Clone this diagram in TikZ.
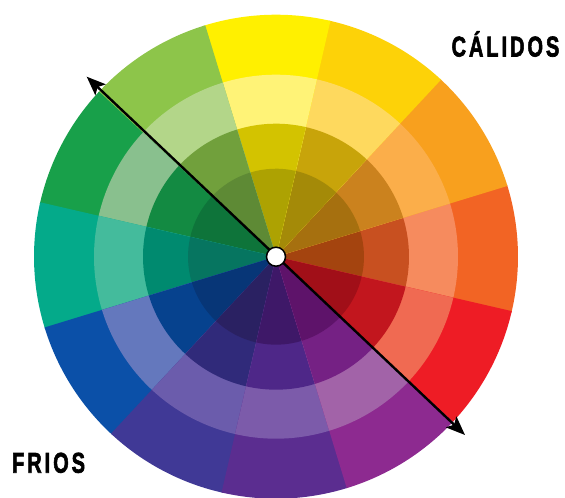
\documentclass[tikz,border=0pt]{standalone}
\usepackage{graphicx}
\usepackage{fontspec}
\setmainfont{Liberation Sans}
\newfontfamily\lblfont{Liberation Sans}[BoldFeatures={FakeBold=2.5}]
\usetikzlibrary{arrows.meta}
\newcommand\lsp{\kern4.2pt}
\begin{document}
\begin{tikzpicture}[x=1pt,y=1pt,
  arrowline/.style={line width=2.4pt, black,
    {Stealth[length=19pt,width=15pt,inset=4pt]}-{Stealth[length=19pt,width=15pt,inset=4pt]}},
  dot/.style={circle, fill=white, draw=black, line width=1.5pt, minimum size=19pt, inner sep=0pt},
  lbl/.style={anchor=base west, inner sep=0pt, text=black}]
\useasboundingbox (0,0) rectangle (565,498);
\coordinate (O) at (276,241.3);
\begin{scope}[shift={(O)}]
\foreach \i/\ca/\cb/\cc/\cd in {
  0/F26424/F68B5E/C85020/A4440F,
  1/F8A01E/FBAE4A/CB821E/A6700F,
  2/FDD208/FED95E/C8A40A/A48A08,
  3/FFF000/FFF377/D3C300/ADA202,
  4/8DC54A/B3D689/71A03C/5E8A35,
  5/18A04A/89C08E/138A42/0E743A,
  6/04AA8A/44BB9C/008A6F/067560,
  7/0B50A8/6478BD/06428E/073677,
  8/403996/6B5CAC/302A7A/2A2162,
  9/5B2D90/7C5BAA/4E2788/3E1868,
  10/8D2A90/A263A8/752184/5E136A,
  11/EE1C25/F06A52/C2161E/A10F18}{
  \definecolor{ringA}{HTML}{\ca}
  \definecolor{ringB}{HTML}{\cb}
  \definecolor{ringC}{HTML}{\cc}
  \definecolor{ringD}{HTML}{\cd}
  \pgfmathsetmacro\as{-13+30*\i-(\i==0)*0.4}
  \pgfmathsetmacro\ae{17+30*\i+(\i<11)*0.4}
  \foreach \r/\col in {242/ringA,182/ringB,133/ringC,88/ringD}{
    \fill[\col] (0,0) -- (\as:\r) arc[start angle=\as, end angle=\ae, radius=\r] -- cycle;
  }
}
\end{scope}
\coordinate (tipA) at (86.7,421.3);
\coordinate (tipB) at (465,63);
\draw[arrowline] (tipA) -- (tipB);
\node[dot] (c) at (O) {};
\node[lbl] (calidos) at (451.4,441.5) {\scalebox{0.7}[1]{\lblfont\fontsize{28.6}{30}\selectfont\bfseries C\lsp Á\lsp L\lsp I\lsp D\lsp O\lsp S}};
\node[lbl] (frios) at (11.9,25.3) {\scalebox{0.7}[1]{\lblfont\fontsize{28.6}{30}\selectfont\bfseries F\lsp R\lsp I\lsp O\lsp S}};
\end{tikzpicture}
\end{document}
